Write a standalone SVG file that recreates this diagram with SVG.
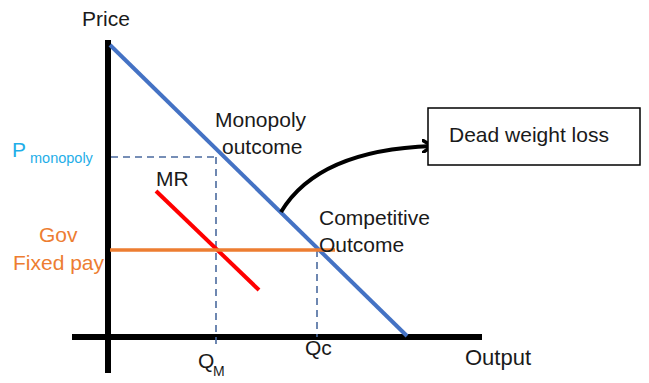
<svg xmlns="http://www.w3.org/2000/svg" width="649" height="383" viewBox="0 0 649 383">
<style>
text{font-family:"Liberation Sans",Arial,sans-serif;font-size:21px;fill:#1a1a1a}
.or{fill:#ED7D31}
.lb{fill:#1FAEE8}
.dash{stroke:#4A6A9E;stroke-width:1.6;stroke-dasharray:7,5;fill:none}
</style>
<defs>
<marker id="chev" viewBox="0 0 12 14" refX="10" refY="7" markerWidth="12" markerHeight="14" markerUnits="userSpaceOnUse" orient="auto">
<polyline points="1,1 10,7 1,13" fill="none" stroke="#000" stroke-width="3.5" stroke-linecap="round" stroke-linejoin="round"/>
</marker>
</defs>
<rect width="649" height="383" fill="#fff"/>
<g id="axes">
<line x1="108" y1="40" x2="108" y2="373" stroke="#000" stroke-width="6"/>
<line x1="72" y1="337" x2="482" y2="337" stroke="#000" stroke-width="6"/>
<text x="82" y="26">Price</text>
<text x="465" y="365" style="font-size:22px">Output</text>
</g>
<g id="connectors">
<line class="dash" x1="111" y1="157" x2="216" y2="157"/>
<line class="dash" x1="216" y1="157" x2="216" y2="348"/>
<line class="dash" x1="317" y1="250" x2="317" y2="337"/>
<line id="demand" x1="110" y1="45" x2="407" y2="336" stroke="#4472C4" stroke-width="4"/>
<line id="mr" x1="156" y1="191" x2="259" y2="290" stroke="#FF0000" stroke-width="4"/>
<line id="govpay" x1="110" y1="250" x2="335" y2="250" stroke="#ED7D31" stroke-width="3.5"/>
<path d="M281,212 Q318,150 432,146" fill="none" stroke="#000" stroke-width="4" marker-end="url(#chev)"/>
</g>
<g id="dwl">
<rect x="428" y="108" width="212" height="57" fill="#fff" stroke="#000" stroke-width="1.5"/>
<text x="449" y="142">Dead weight loss</text>
</g>
<g id="labels">
<text class="lb" x="12" y="157" style="font-size:21px">P</text>
<text class="lb" x="30" y="163" style="font-size:14.5px">monopoly</text>
<text x="215" y="127">Monopoly</text>
<text x="222" y="154">outcome</text>
<text x="156" y="186">MR</text>
<text x="319" y="225">Competitive</text>
<text x="319" y="252">Outcome</text>
<text class="or" x="39" y="242">Gov</text>
<text class="or" x="13" y="270">Fixed pay</text>
<text x="198" y="368">Q</text>
<text x="213" y="376" style="font-size:14px">M</text>
<text x="305" y="355">Qc</text>
</g>
</svg>
